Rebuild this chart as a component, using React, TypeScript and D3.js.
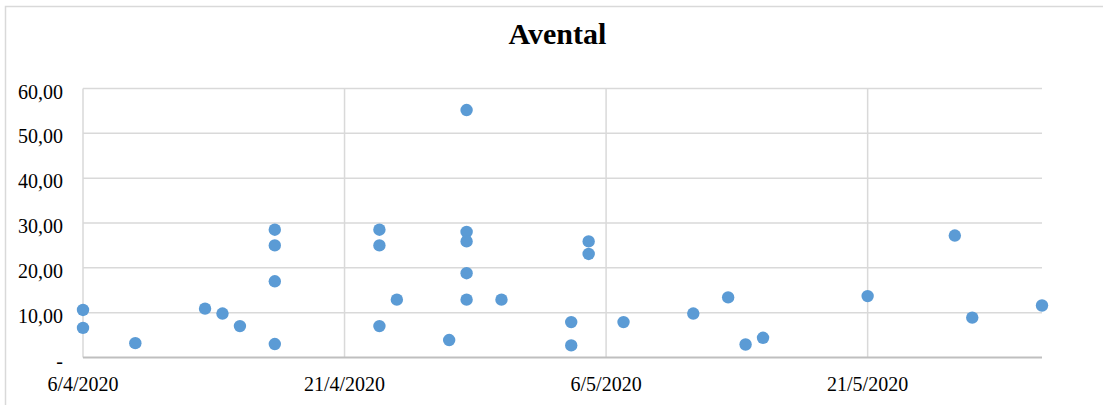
import { formatLocale, scaleLinear, scaleUtc } from "d3";
import type { ReactElement } from "react";

// sample dates (day/month 2020) and values
const dates: ReadonlyArray<string> = [
  "2020-04-06", "2020-04-06", "2020-04-09", "2020-04-13", "2020-04-14",
  "2020-04-15", "2020-04-17", "2020-04-17", "2020-04-17", "2020-04-17",
  "2020-04-23", "2020-04-23", "2020-04-23", "2020-04-24", "2020-04-27",
  "2020-04-28", "2020-04-28", "2020-04-28", "2020-04-28", "2020-04-28",
  "2020-04-30", "2020-05-04", "2020-05-04", "2020-05-05", "2020-05-05",
  "2020-05-07", "2020-05-11", "2020-05-13", "2020-05-14", "2020-05-15",
  "2020-05-21", "2020-05-26", "2020-05-27", "2020-05-31",
];
const values: ReadonlyArray<number> = [
  10.6, 6.6, 3.2, 10.9, 9.8,
  7.0, 28.5, 25.0, 17.0, 3.0,
  28.5, 25.0, 7.0, 12.9, 3.9,
  55.2, 28.0, 25.9, 18.8, 12.9,
  12.9, 7.9, 2.7, 25.9, 23.1,
  7.9, 9.8, 13.4, 2.9, 4.4,
  13.7, 27.2, 8.9, 11.6,
];
const xTickDates: ReadonlyArray<string> = ["2020-04-06", "2020-04-21", "2020-05-06", "2020-05-21"];
const xDomain: ReadonlyArray<string> = ["2020-04-06", "2020-05-31"];
const yTicks: ReadonlyArray<number> = [0, 10, 20, 30, 40, 50, 60];

const WIDTH = 1103;
const HEIGHT = 405;
const LEFT = 83;
const RIGHT = 1042;
const TOP = 88.5;
const BOTTOM = 357.5;

const ptBR = formatLocale({ decimal: ",", thousands: ".", grouping: [3], currency: ["", ""] });
const fmtY = (v: number): string => (v === 0 ? "-" : ptBR.format(".2f")(v));
const parse = (s: string): Date => new Date(`${s}T00:00:00Z`);
const fmtX = (d: Date): string => `${d.getUTCDate()}/${d.getUTCMonth() + 1}/${d.getUTCFullYear()}`;

export default function App(): ReactElement {
  const x = scaleUtc().domain(xDomain.map(parse)).range([LEFT, RIGHT]);
  const y = scaleLinear().domain([0, 60]).range([BOTTOM, TOP]);
  const font = "'Liberation Serif', 'Times New Roman', serif";

  return (
    <svg
      width={WIDTH}
      height={HEIGHT}
      style={{ position: "absolute", left: 0, top: 0, background: "#fff" }}
      fontFamily={font}
    >
      <rect x={5.5} y={6.5} width={1110} height={410} fill="#fff" stroke="#d9d9d9" strokeWidth={1.5} />

      <text x={557.5} y={44} textAnchor="middle" fontSize={30} fontWeight="700" fill="#000">
        Avental
      </text>

      {/* horizontal gridlines */}
      {yTicks.filter((t) => t > 0).map((t) => (
        <line key={`h${t}`} x1={LEFT} x2={RIGHT} y1={y(t)} y2={y(t)} stroke="#d9d9d9" strokeWidth={1.5} />
      ))}
      {/* vertical gridlines */}
      {xTickDates.map((s) => (
        <line key={`v${s}`} x1={x(parse(s))} x2={x(parse(s))} y1={TOP} y2={BOTTOM} stroke="#d9d9d9" strokeWidth={1.5} />
      ))}
      <line x1={LEFT} x2={RIGHT} y1={BOTTOM} y2={BOTTOM} stroke="#bfbfbf" strokeWidth={1.8} />

      {yTicks.map((t) => (
        <text key={`yl${t}`} x={63} y={y(t) + 10} textAnchor="end" fontSize={20} fill="#000">
          {fmtY(t)}
        </text>
      ))}
      {xTickDates.map((s) => (
        <text key={`xl${s}`} x={x(parse(s))} y={391} textAnchor="middle" fontSize={20} fill="#000">
          {fmtX(parse(s))}
        </text>
      ))}

      {values.map((v, i) => (
        <circle key={i} cx={x(parse(dates[i]))} cy={y(v)} r={6.2} fill="#5b9bd5" />
      ))}
    </svg>
  );
}
